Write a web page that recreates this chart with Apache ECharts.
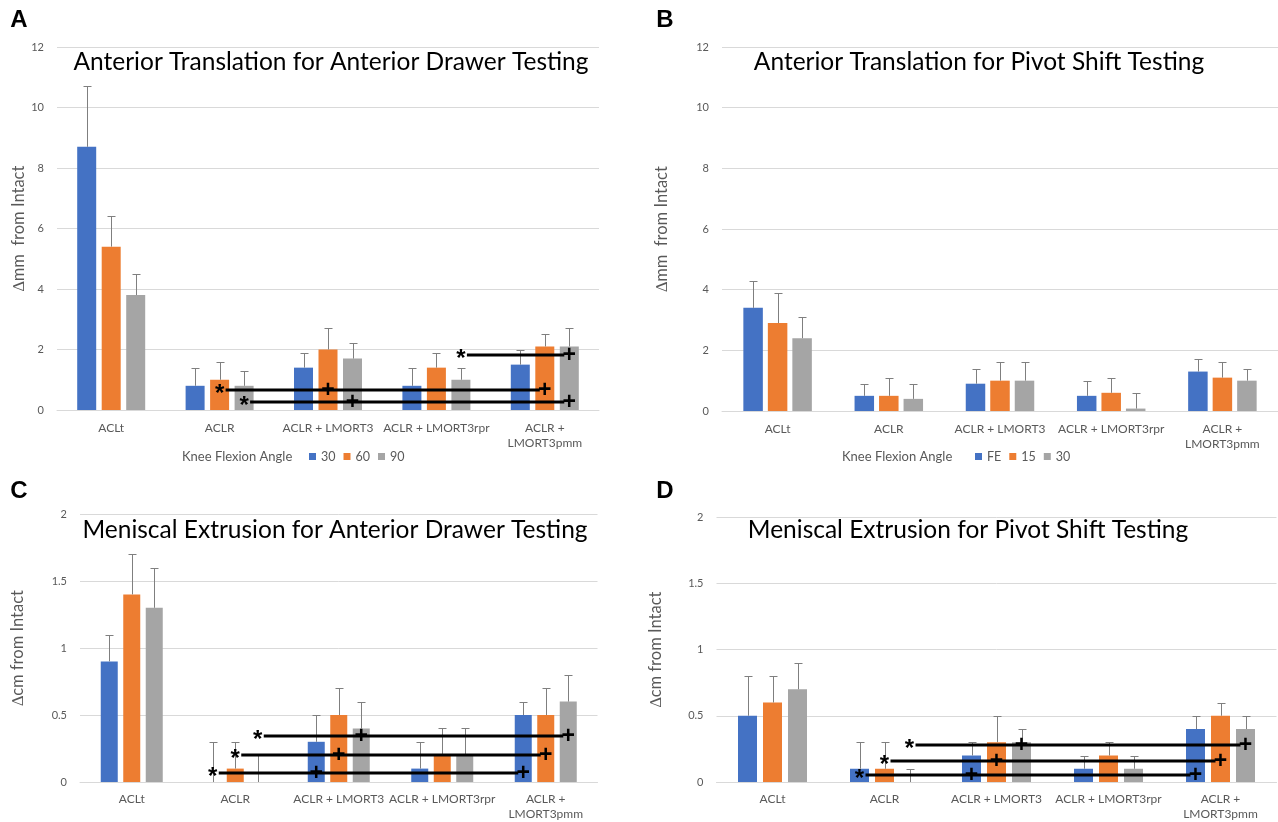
<!DOCTYPE html>
<html><head><meta charset="utf-8">
<script src="https://cdn.jsdelivr.net/npm/echarts@6/dist/echarts.min.js"></script>
<style>html,body{margin:0;padding:0;background:#fff}#c{width:1278px;height:822px}</style>
</head><body><div id="c"></div>
<script>
// ---------- data ----------
const categories = ['ACLt', 'ACLR', 'ACLR + LMORT3', 'ACLR + LMORT3rpr', 'ACLR +\nLMORT3pmm'];
const legendNamesAD = ['30', '60', '90'];     // panel A / C series (knee flexion angle)
const legendNamesPS = ['FE', '15', '30'];     // panel B / D series

// A: Anterior translation, anterior drawer (mm)
const aVal30 = [8.7, 0.8, 1.4, 0.8, 1.5];
const aErr30 = [2.0, 0.6, 0.5, 0.6, 0.5];
const aVal60 = [5.4, 1.0, 2.0, 1.4, 2.1];
const aErr60 = [1.0, 0.6, 0.7, 0.5, 0.4];
const aVal90 = [3.8, 0.8, 1.7, 1.0, 2.1];
const aErr90 = [0.7, 0.5, 0.5, 0.4, 0.6];

// B: Anterior translation, pivot shift (mm)
const bValFE = [3.4, 0.5, 0.9, 0.5, 1.3];
const bErrFE = [0.9, 0.4, 0.5, 0.5, 0.4];
const bVal15 = [2.9, 0.5, 1.0, 0.6, 1.1];
const bErr15 = [1.0, 0.6, 0.6, 0.5, 0.5];
const bVal30 = [2.4, 0.4, 1.0, 0.08, 1.0];
const bErr30 = [0.7, 0.5, 0.6, 0.5, 0.4];

// C: Meniscal extrusion, anterior drawer (cm)
const cVal30 = [0.9, 0.0, 0.3, 0.1, 0.5];
const cErr30 = [0.2, 0.3, 0.2, 0.2, 0.1];
const cVal60 = [1.4, 0.1, 0.5, 0.2, 0.5];
const cErr60 = [0.3, 0.2, 0.2, 0.2, 0.2];
const cVal90 = [1.3, 0.0, 0.4, 0.2, 0.6];
const cErr90 = [0.3, 0.2, 0.2, 0.2, 0.2];

// D: Meniscal extrusion, pivot shift (cm)
const dValFE = [0.5, 0.1, 0.2, 0.1, 0.4];
const dErrFE = [0.3, 0.2, 0.1, 0.1, 0.1];
const dVal15 = [0.6, 0.1, 0.3, 0.2, 0.5];
const dErr15 = [0.2, 0.2, 0.2, 0.1, 0.1];
const dVal30 = [0.7, 0.0, 0.3, 0.1, 0.4];
const dErr30 = [0.2, 0.1, 0.1, 0.1, 0.1];

// significance markers: [series index, category of "*", y value, categories of "+"]
const sigA = [[1, 1, 0.66, [2, 4]], [2, 1, 0.27, [2, 4]], [2, 3, 1.82, [4]]];
const sigC = [[0, 1, 0.07, [2, 4]], [1, 1, 0.2, [2, 4]], [2, 1, 0.34, [2, 4]]];
const sigD = [[0, 1, 0.05, [2, 4]], [1, 1, 0.16, [2, 4]], [2, 1, 0.28, [2, 4]]];

const panelTitles = ['Anterior Translation for Anterior Drawer Testing', 'Anterior Translation for Pivot Shift Testing',
  'Meniscal Extrusion for Anterior Drawer Testing', 'Meniscal Extrusion for Pivot Shift Testing'];
const yNames = ['\u2206mm  from Intact', '\u2206mm  from Intact', '\u2206cm from Intact', '\u2206cm from Intact'];

// ---------- styles ----------
const COLORS = ['#4472C4', '#ED7D31', '#A5A5A5'];
const FONT = 'Lato';
const GRAY_TXT = '#595959';
const grids = [
  { left: 57, top: 47, width: 542, height: 363 },
  { left: 722, top: 47, width: 556, height: 364 },
  { left: 80, top: 514, width: 517.5, height: 268 },
  { left: 716.5, top: 517, width: 560, height: 265 }
];
const barStyle = [{ w: 19, g: 5.5 }, { w: 19.5, g: 5 }, { w: 17, g: 5.5 }, { w: 19, g: 6 }];
const nameGaps = [26, 52, 54, 52];

const panelVals = [[aVal30, aVal60, aVal90], [bValFE, bVal15, bVal30], [cVal30, cVal60, cVal90], [dValFE, dVal15, dVal30]];
const panelErrs = [[aErr30, aErr60, aErr90], [bErrFE, bErr15, bErr30], [cErr30, cErr60, cErr90], [dErrFE, dErr15, dErr30]];
const panelNames = [legendNamesAD, legendNamesPS, legendNamesAD.map(n => 'C ' + n), legendNamesPS.map(n => 'D ' + n)];
const panelSig = [sigA, null, sigC, sigD];

const xAxes = [], yAxes = [], series = [];
for (let p = 0; p < 4; p++) {
  const big = p < 2;
  xAxes.push({
    type: 'category', gridIndex: p, data: categories,
    axisLine: { lineStyle: { color: '#D9D9D9', width: 1 } }, axisTick: { show: false },
    axisLabel: { color: GRAY_TXT, fontFamily: FONT, fontSize: 12, margin: big ? 11 : 10, lineHeight: 15, interval: 0 }
  });
  yAxes.push({
    type: 'value', gridIndex: p, min: 0, max: big ? 12 : 2, interval: big ? 2 : 0.5,
    axisLine: { show: false }, axisTick: { show: false },
    splitLine: { lineStyle: { color: '#D9D9D9', width: 1 } },
    axisLabel: { color: GRAY_TXT, fontFamily: FONT, fontSize: 11, margin: 13 },
    name: yNames[p], nameLocation: 'middle', nameGap: nameGaps[p], nameRotate: 90,
    nameTextStyle: { color: GRAY_TXT, fontFamily: FONT, fontSize: 16.5 }
  });
  const bs = barStyle[p];
  const step = bs.w + bs.g;
  for (let s = 0; s < 3; s++) {
    series.push({
      type: 'bar', name: panelNames[p][s], xAxisIndex: p, yAxisIndex: p,
      data: panelVals[p][s], barWidth: bs.w, barGap: (bs.g / bs.w * 100) + '%',
      itemStyle: { color: COLORS[s] }, silent: true, z: 2
    });
  }
  for (let s = 0; s < 3; s++) {
    const vals = panelVals[p][s], errs = panelErrs[p][s];
    series.push({
      type: 'custom', xAxisIndex: p, yAxisIndex: p, silent: true, z: 5,
      data: vals.map((v, i) => [i, v, v + errs[i]]),
      encode: { x: 0, y: [1, 2] },
      renderItem: (params, api) => {
        const base = api.coord([api.value(0), api.value(1)]);
        const top = api.coord([api.value(0), api.value(2)]);
        const x = Math.round(base[0] + (s - 1) * step) + 0.5;
        const ty = Math.round(top[1]) + 0.5;
        return {
          type: 'group', children: [
            { type: 'line', shape: { x1: x, y1: base[1], x2: x, y2: ty }, style: { stroke: '#7F7F7F', lineWidth: 1 } },
            { type: 'line', shape: { x1: x - 4, y1: ty, x2: x + 4, y2: ty }, style: { stroke: '#7F7F7F', lineWidth: 1 } }
          ]
        };
      }
    });
  }
  const sig = panelSig[p];
  if (sig) {
    series.push({
      type: 'custom', xAxisIndex: p, yAxisIndex: p, silent: true, z: 10,
      data: sig.map(d => [d[1], d[2]]),
      encode: { x: 0, y: 1 },
      renderItem: (params, api) => {
        const d = sig[params.dataIndex];
        const off = (d[0] - 1) * step;
        const st = api.coord([d[1], d[2]]);
        const xs = st[0] + off, y = Math.round(st[1]);
        const plusX = d[3].map(c => api.coord([c, d[2]])[0] + off);
        const xe = plusX[plusX.length - 1];
        const ch = [{ type: 'line', shape: { x1: xs + 6, y1: y, x2: xe - 5, y2: y }, style: { stroke: '#000', lineWidth: 3 } }];
        ch.push({ type: 'text', style: { text: '*', x: xs, y: y + 4, fill: '#000', font: 'bold 24px "Liberation Sans"', align: 'center', verticalAlign: 'middle', textAlign: 'center', textVerticalAlign: 'middle' } });
        plusX.forEach(px => ch.push({ type: 'text', style: { text: '+', x: px, y: y + 1, fill: '#000', font: 'bold 23px "Liberation Sans"', align: 'center', verticalAlign: 'middle', textAlign: 'center', textVerticalAlign: 'middle' } }));
        return { type: 'group', children: ch };
      }
    });
  }
}

function legendItems(names) {
  return names.map((n, i) => ({ name: n, itemStyle: { color: COLORS[i] } }));
}
const legendCommon = {
  orient: 'horizontal', icon: 'rect', itemWidth: 7, itemHeight: 7, itemGap: 8, selectedMode: false,
  textStyle: { color: GRAY_TXT, fontFamily: FONT, fontSize: 12.5 }, padding: 0
};

const titlePos = [[331, 62], [979, 62], [335, 530], [968, 530]];
const letterPos = [['A', 19, 20], ['B', 665, 20], ['C', 19, 491], ['D', 665, 491]];
const graphics = [];
panelTitles.forEach((t, i) => graphics.push({
  type: 'text', x: titlePos[i][0], y: titlePos[i][1], silent: true,
  style: { text: t, fill: '#000', font: '24.5px ' + FONT, align: 'center', verticalAlign: 'middle', textAlign: 'center', textVerticalAlign: 'middle' }
}));
letterPos.forEach(l => graphics.push({
  type: 'text', x: l[1], y: l[2], silent: true,
  style: { text: l[0], fill: '#000', font: 'bold 24px "Liberation Sans"', align: 'center', verticalAlign: 'middle', textAlign: 'center', textVerticalAlign: 'middle' }
}));
[[182, 457], [842, 457]].forEach(pos => graphics.push({
  type: 'text', x: pos[0], y: pos[1], silent: true,
  style: { text: 'Knee Flexion Angle', fill: GRAY_TXT, font: '13px ' + FONT, align: 'left', verticalAlign: 'middle', textAlign: 'left', textVerticalAlign: 'middle' }
}));

const chart = echarts.init(document.getElementById('c'));
chart.setOption({
  animation: false,
  backgroundColor: '#fff',
  grid: grids.map(g => Object.assign({ containLabel: false, outerBoundsMode: 'none' }, g)),
  xAxis: xAxes,
  yAxis: yAxes,
  legend: [
    Object.assign({ left: 309, top: 450, data: legendItems(legendNamesAD) }, legendCommon),
    Object.assign({ left: 975, top: 450, data: legendItems(legendNamesPS) }, legendCommon)
  ],
  series: series,
  graphic: graphics
});
</script></body></html>
